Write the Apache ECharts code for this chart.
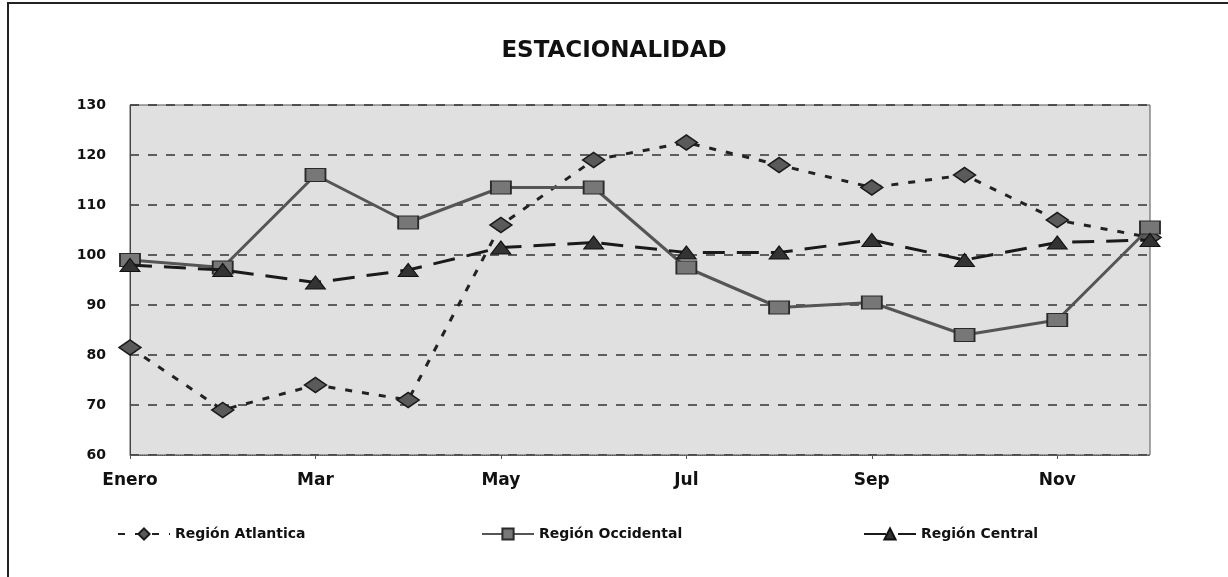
<!DOCTYPE html>
<html>
<head>
<meta charset="utf-8">
<title>Estacionalidad</title>
<script src="https://cdn.jsdelivr.net/npm/echarts@6/dist/echarts.min.js"></script>
<style>
  html, body { margin: 0; padding: 0; background: #fff; }
  #chart { width: 1228px; height: 577px; }
</style>
</head>
<body>
<div id="chart"></div>
<script>
// categorías (meses)
const meses = ['Enero', 'Feb', 'Mar', 'Abr', 'May', 'Jun', 'Jul', 'Ago', 'Sep', 'Oct', 'Nov', 'Dic'];

// valores
const atlantica = [81.5, 69, 74, 71, 106, 119, 122.5, 118, 113.5, 116, 107, 103.5];
const occidental = [99, 97.5, 116, 106.5, 113.5, 113.5, 97.5, 89.5, 90.5, 84, 87, 105.5];
const central = [98, 97, 94.5, 97, 101.5, 102.5, 100.5, 100.5, 103, 99, 102.5, 103];

const chart = echarts.init(document.getElementById('chart'));

const labelFont = {
  color: '#111',
  fontWeight: 'bold',
  fontFamily: 'DejaVu Sans'
};

const legendBase = {
  top: 522,
  itemWidth: 52,
  itemHeight: 14,
  textStyle: { color: '#111', fontSize: 14, fontWeight: 'bold', fontFamily: 'DejaVu Sans' }
};

const option = {
  backgroundColor: '#fff',
  animation: false,
  title: {
    text: 'ESTACIONALIDAD',
    left: 'center',
    top: 35,
    textStyle: { color: '#111', fontSize: 23, fontWeight: 'bold', fontFamily: 'DejaVu Sans' }
  },
  graphic: [
    {
      type: 'rect',
      silent: true,
      shape: { x: 8, y: 3, width: 1240, height: 600 },
      style: { fill: 'none', stroke: '#222', lineWidth: 2 }
    }
  ],
  legend: [
    Object.assign({ left: 112, data: ['Región Atlantica'] }, legendBase),
    Object.assign({ left: 476, data: ['Región Occidental'] }, legendBase),
    Object.assign({ left: 858, data: ['Región Central'] }, legendBase)
  ],
  grid: {
    left: 130,
    right: 78,
    top: 105,
    bottom: 122,
    show: true,
    backgroundColor: '#e0e0e0',
    borderColor: '#555',
    borderWidth: 1
  },
  xAxis: {
    type: 'category',
    data: meses,
    boundaryGap: false,
    axisLine: { lineStyle: { color: '#555', type: 'dotted' } },
    axisTick: { show: true, length: 4, lineStyle: { color: '#555' } },
    axisLabel: Object.assign({ interval: 1, fontSize: 17, margin: 17 }, labelFont),
    splitLine: { show: false }
  },
  yAxis: {
    type: 'value',
    min: 60,
    max: 130,
    interval: 10,
    axisLine: { show: true, lineStyle: { color: '#444' } },
    axisTick: { show: false },
    axisLabel: Object.assign({ fontSize: 14, margin: 24 }, labelFont),
    splitLine: { lineStyle: { color: '#333', type: [9, 9], width: 1.5 } }
  },
  series: [
    {
      name: 'Región Atlantica',
      type: 'line',
      data: atlantica,
      symbol: 'diamond',
      symbolSize: [22, 15],
      lineStyle: { color: '#222', width: 3, type: [7, 10] },
      itemStyle: { color: '#5a5a5a', borderColor: '#1a1a1a', borderWidth: 1.5 },
      z: 3
    },
    {
      name: 'Región Occidental',
      type: 'line',
      data: occidental,
      symbol: 'rect',
      symbolSize: [20, 13],
      lineStyle: { color: '#555', width: 3, type: 'solid' },
      itemStyle: { color: '#777', borderColor: '#2a2a2a', borderWidth: 1.5 },
      z: 4
    },
    {
      name: 'Región Central',
      type: 'line',
      data: central,
      symbol: 'triangle',
      symbolSize: [20, 13],
      lineStyle: { color: '#1a1a1a', width: 3, type: [22, 12] },
      itemStyle: { color: '#333', borderColor: '#111', borderWidth: 1 },
      z: 5
    }
  ]
};

chart.setOption(option);
window.addEventListener('resize', () => chart.resize());
</script>
</body>
</html>
